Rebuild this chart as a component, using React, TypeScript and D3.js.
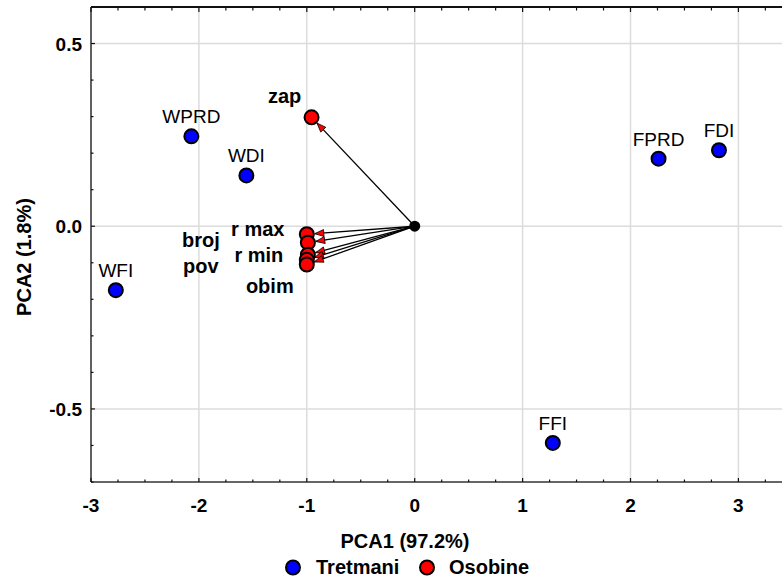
import React from "react";
import * as d3 from "d3";

const treatments = ["WPRD", "WDI", "WFI", "FPRD", "FDI", "FFI"];
const treatmentPC1 = [-2.07, -1.56, -2.77, 2.26, 2.82, 1.28];
const treatmentPC2 = [0.246, 0.139, -0.175, 0.185, 0.208, -0.593];

const variables = ["zap", "r max", "broj", "r min", "pov", "obim"];
const variablePC1 = [-0.956, -1.0, -0.99, -0.99, -1.0, -1.0];
const variablePC2 = [0.298, -0.022, -0.045, -0.078, -0.092, -0.105];

const xTicks = [-3, -2, -1, 0, 1, 2, 3];
const yTicks = [0.5, 0.0, -0.5];
const xTitle = "PCA1 (97.2%)";
const yTitle = "PCA2 (1.8%)";
const legendLabels = ["Tretmani", "Osobine"];

// label placement (pixel offsets from point), layout only
const varLabelOffsets: [number, number][] = [
  [-27, -14],
  [-49, 2],
  [-107, 4.5],
  [-49, 7],
  [-106, 13],
  [-37, 28],
];

const W = 782;
const H = 577;
const M = { left: 91, top: 7, right: 782, bottom: 482 };
const FONT = "'Liberation Sans', Arial, sans-serif";
const BLUE = "#0000ff";
const RED = "#ff0000";
const R = 7;

const hyphen = (s: string) => s.replace("\u2212", "-");

export default function App() {
  const x = d3.scaleLinear().domain([-3, 3.4]).range([M.left, M.left + 6.4 * 107.9]);
  const y = d3.scaleLinear().domain([-0.7, 0.6]).range([M.bottom, M.top]);

  const xMinor = d3.range(-3, 3.41, 0.25);
  const yMinor = d3.range(-0.7, 0.601, 0.1).map((v) => Math.round(v * 10) / 10);

  const ox = x(0);
  const oy = y(0);

  const arrows = variables.map((name, i) => {
    const px = x(variablePC1[i]);
    const py = y(variablePC2[i]);
    const dx = px - ox;
    const dy = py - oy;
    const len = Math.hypot(dx, dy);
    const ux = dx / len;
    const uy = dy / len;
    const ex = px - ux * (R + 1);
    const ey = py - uy * (R + 1);
    const hl = 9;
    const hw = 3.5;
    const bx = ex - ux * hl;
    const by = ey - uy * hl;
    const tri = [
      [ex, ey],
      [bx - uy * hw, by + ux * hw],
      [bx + uy * hw, by - ux * hw],
    ];
    return { name, px, py, ex, ey, tri, i };
  });

  const lineGen = d3.line();

  return (
    <svg
      width={W}
      height={H}
      style={{ position: "absolute", left: 0, top: 0, background: "#fff" }}
      fontFamily={FONT}
    >
      <rect x={0} y={0} width={W} height={H} fill="#fff" />
      {/* grid */}
      {xTicks.map((t) => (
        <line key={"gx" + t} x1={x(t)} x2={x(t)} y1={M.top} y2={M.bottom} stroke="#dcdcdc" strokeWidth={1.5} />
      ))}
      {yTicks.map((t) => (
        <line key={"gy" + t} x1={M.left} x2={M.right} y1={y(t)} y2={y(t)} stroke="#dcdcdc" strokeWidth={1.5} />
      ))}
      {/* axes */}
      <line x1={M.left} x2={M.right} y1={M.top} y2={M.top} stroke="#111" strokeWidth={2} />
      <line x1={M.left} x2={M.right} y1={M.bottom} y2={M.bottom} stroke="#333" strokeWidth={1.5} />
      <line x1={M.left} x2={M.left} y1={M.top} y2={M.bottom} stroke="#333" strokeWidth={1.5} />
      {/* ticks */}
      {xMinor.map((t) => {
        const major = Math.abs(t - Math.round(t)) < 1e-6;
        const l = major ? 4 : 2.5;
        return (
          <g key={"tx" + t}>
            <line x1={x(t)} x2={x(t)} y1={M.top} y2={M.top + l + 1} stroke="#111" strokeWidth={1.2} />
            <line x1={x(t)} x2={x(t)} y1={M.bottom} y2={M.bottom - l} stroke="#111" strokeWidth={1.2} />
          </g>
        );
      })}
      {yMinor.map((t) => {
        const major = Math.abs(t * 2 - Math.round(t * 2)) < 1e-6;
        const l = major ? 4 : 2.5;
        return <line key={"ty" + t} x1={M.left} x2={M.left + l} y1={y(t)} y2={y(t)} stroke="#111" strokeWidth={1.2} />;
      })}
      {/* tick labels */}
      {xTicks.map((t) => (
        <text key={"lx" + t} x={x(t)} y={512} textAnchor="middle" fontSize={19} fontWeight="bold" fill="#000">
          {hyphen(d3.format("d")(t))}
        </text>
      ))}
      {yTicks.map((t) => (
        <text key={"ly" + t} x={82} y={y(t) + 7} textAnchor="end" fontSize={19} fontWeight="bold" fill="#000">
          {hyphen(d3.format(".1f")(t))}
        </text>
      ))}
      {/* axis titles */}
      <text x={405} y={548} textAnchor="middle" fontSize={20} fontWeight="bold">
        {xTitle}
      </text>
      <text
        transform={`translate(31, 257) rotate(-90)`}
        textAnchor="middle"
        fontSize={20}
        fontWeight="bold"
      >
        {yTitle}
      </text>
      {/* variable points */}
      {arrows.map((a) => (
        <circle key={"vc" + a.i} cx={a.px} cy={a.py} r={R} fill={RED} stroke="#000" strokeWidth={2} />
      ))}
      {arrows.map((a) => (
        <g key={"ar" + a.i}>
          <path d={lineGen([[ox, oy], [a.ex, a.ey]]) || ""} stroke="#000" strokeWidth={1.3} fill="none" />
          <path d={(lineGen(a.tri as [number, number][]) || "") + "Z"} fill={RED} stroke="#000" strokeWidth={0.8} />
        </g>
      ))}
      <circle cx={ox} cy={oy} r={5.5} fill="#000" />
      {arrows.map((a) => (
        <text
          key={"vl" + a.i}
          x={a.px + varLabelOffsets[a.i][0]}
          y={a.py + varLabelOffsets[a.i][1]}
          textAnchor="middle"
          fontSize={20}
          fontWeight="bold"
        >
          {a.name}
        </text>
      ))}
      {/* treatment points */}
      {treatments.map((name, i) => (
        <g key={"tp" + name}>
          <circle cx={x(treatmentPC1[i])} cy={y(treatmentPC2[i])} r={R} fill={BLUE} stroke="#000" strokeWidth={2} />
          <text x={x(treatmentPC1[i])} y={y(treatmentPC2[i]) - 13} textAnchor="middle" fontSize={19}>
            {name}
          </text>
        </g>
      ))}
      {/* legend */}
      <circle cx={293} cy={567.5} r={7} fill={BLUE} stroke="#000" strokeWidth={2} />
      <text x={316} y={574} fontSize={20} fontWeight="bold">
        {legendLabels[0]}
      </text>
      <circle cx={427} cy={567.5} r={7} fill={RED} stroke="#000" strokeWidth={2} />
      <text x={449} y={574} fontSize={20} fontWeight="bold">
        {legendLabels[1]}
      </text>
    </svg>
  );
}
